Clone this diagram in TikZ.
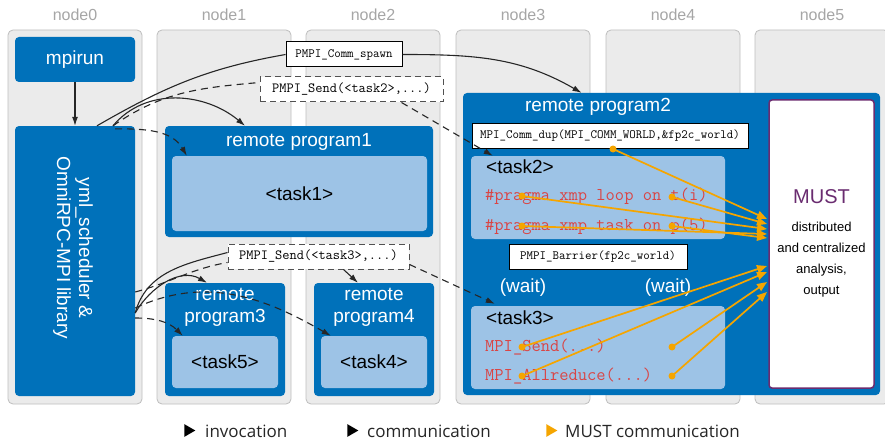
\documentclass[tikz,border=0pt]{standalone}
\usepackage{fontspec}
\setmainfont{Liberation Sans}
\newfontfamily\legendfont{Open Sans}
\usepackage{xcolor}
\usepackage{tikz}
\usetikzlibrary{
arrows.meta,
positioning,
shapes.geometric
}
\definecolor{panel}{HTML}{EBEBEB}
\definecolor{panelline}{HTML}{BEBEBE}
\definecolor{labelgray}{HTML}{A6A6A6}
\definecolor{progblue}{HTML}{0071BA}
\definecolor{taskblue}{HTML}{9DC3E6}
\definecolor{mustorange}{HTML}{F5A500}
\definecolor{mustpurple}{HTML}{6A2C70}
\definecolor{codered}{HTML}{D94545}
\definecolor{arrowgray}{HTML}{262626}

\tikzset{
column/.style={
draw=panelline,
fill=panel,
line width=0.8pt,
rounded corners=5pt,
minimum width=134pt,
minimum height=374pt
},
collabel/.style={
text=labelgray,
font=\fontsize{16}{18}\selectfont
},
prog/.style={
fill=progblue,
rounded corners=4pt,
text=white,
font=\fontsize{19}{22}\selectfont
},
task/.style={
fill=taskblue,
rounded corners=4pt,
font=\fontsize{19}{22}\selectfont
},
title/.style={
text=white,
align=center,
inner sep=0pt,
font=\fontsize{19}{22}\selectfont
},
callbox/.style={
draw=black,
fill=white,
line width=1pt,
inner sep=0pt,
minimum height=25pt,
font=\ttfamily\fontsize{12.6}{14}\selectfont
},
sendbox/.style={
callbox,
draw=arrowgray!80,
dash pattern=on 6pt off 4pt,
font=\ttfamily\fontsize{14}{16}\selectfont
},
code/.style={
text=codered,
inner sep=0pt,
font=\ttfamily\fontsize{18}{20}\selectfont
},
invoke/.style={
draw=arrowgray,
line width=1.1pt,
-{Latex[length=9pt,width=6pt]}
},
comm/.style={
invoke,
dash pattern=on 7pt off 5pt
},
mustline/.style={
draw=mustorange,
line width=1.7pt,
-{Triangle[length=10pt,width=8pt]}
},
mustdot/.style={
circle,
fill=mustorange,
inner sep=0pt,
minimum size=7pt
},
legtip/.style={
isosceles triangle,
isosceles triangle apex angle=60,
inner sep=0pt,
minimum size=11pt
},
legtext/.style={
anchor=west,
inner sep=0pt,
font=\legendfont\fontsize{17}{19}\selectfont,
text=black!85
}
}

\begin{document}
\begin{tikzpicture}[x=1pt,y=-1pt]
\useasboundingbox[fill=white] (0,0) rectangle (885,441);

% columns
\foreach \i/\cx in {0/75,1/224,2/373,3/523,4/673,5/822}{
\node[column] (col\i) at (\cx,217) {};
\node[collabel] (lab\i) at (\cx,15) {node\i};
}

% node0
\node[prog, minimum width=120pt, minimum height=45pt] (mpirun) at (75,59.5) {mpirun};
\node[prog, minimum width=120pt, minimum height=270pt] (yml) at (75,261) {};
\node[title, rotate=-90] (ymltext) at (73,248) {yml\_scheduler \&\\OmniRPC-MPI library};

% remote program1
\node[prog, minimum width=268pt, minimum height=111pt] (rp1) at (299,181.5) {};
\node[title] (rp1title) at (299,142) {remote program1};
\node[task, minimum width=255pt, minimum height=75pt] (task1) at (299.5,193.5) {<task1>};

% remote program3 and 4
\node[prog, minimum width=120pt, minimum height=113pt] (rp3) at (225,339.5) {};
\node[title] (rp3title) at (225,307) {remote\\program3};
\node[task, minimum width=106pt, minimum height=52pt] (task5) at (225,362) {<task5>};
\node[prog, minimum width=120pt, minimum height=113pt] (rp4) at (374,339.5) {};
\node[title] (rp4title) at (374,307) {remote\\program4};
\node[task, minimum width=106pt, minimum height=52pt] (task4) at (374,362) {<task4>};

% remote program2
\node[prog, minimum width=417pt, minimum height=302pt] (rp2) at (671.5,244) {};
\node[title] (rp2title) at (598,107) {remote program2};
\node[callbox, minimum width=276pt] (commdup) at (610,136) {MPI\_Comm\_dup(MPI\_COMM\_WORLD,\&fp2c\_world)};
\node[task, minimum width=254pt, minimum height=83pt] (task2) at (598,197.5) {};
\node[anchor=west, inner sep=0pt, font=\fontsize{19}{22}\selectfont] (task2text) at (486,167) {<task2>};
\node[code, anchor=west] (loopline) at (485,196) {\#pragma xmp loop on t(i)};
\node[code, anchor=west] (taskline) at (485,226) {\#pragma xmp task on p(5)};
\node[callbox, minimum width=178pt] (barrier) at (598,257) {PMPI\_Barrier(fp2c\_world)};
\node[title] (wait1) at (523,288) {(wait)};
\node[title] (wait2) at (668,288) {(wait)};
\node[task, minimum width=254pt, minimum height=83pt] (task3) at (598,347.5) {};
\node[anchor=west, inner sep=0pt, font=\fontsize{19}{22}\selectfont] (task3text) at (486,318) {<task3>};
\node[code, anchor=west] (sendline) at (485,347) {MPI\_Send(...)};
\node[code, anchor=west] (reduceline) at (485,376) {MPI\_Allreduce(...)};

% MUST
\node[draw=mustpurple, fill=white, line width=1.5pt, rounded corners=3pt,
minimum width=105pt, minimum height=288pt] (must) at (821.5,244) {};
\node[text=mustpurple, font=\fontsize{20}{22}\selectfont] (musttitle) at (821.5,197) {MUST};
\node[align=center, font=\fontsize{13}{21}\selectfont] (musttext) at (821.5,259.5)
{distributed\\and centralized\\analysis,\\output};

% calls between programs
\node[callbox, minimum width=116pt] (spawn) at (344,54.5) {PMPI\_Comm\_spawn};
\node[sendbox, minimum width=183pt] (send2) at (351.5,89.5) {PMPI\_Send(<task2>,...)};
\node[sendbox, minimum width=181pt] (send3) at (318.5,256.5) {PMPI\_Send(<task3>,...)};

% invocation
\draw[invoke] (mpirun) -- (yml);
\draw[draw=arrowgray, line width=1.1pt] ([xshift=22pt]yml.north) to[out=30,in=190] (spawn.west);
\draw[invoke] (spawn.east) to[out=0,in=150] ([xshift=-90pt]rp2.north);
\draw[invoke] ([xshift=38pt]yml.north) to[out=50,in=140] ([xshift=-54pt]rp1.north);
\draw[draw=arrowgray, line width=1.1pt] ([yshift=-52pt]yml.east) to[out=75,in=195] ([yshift=4pt]send3.west);
\draw[invoke] ([yshift=-52pt]yml.east) to[out=60,in=150] ([xshift=-18pt]rp3.north);
\draw[invoke] ([xshift=25pt]send3.south) -- ([xshift=-16pt]rp4.north);

% communication
\draw[comm, -] ([xshift=38pt]yml.north) to[out=35,in=185] ([yshift=7pt]send2.west);
\draw[comm] ([xshift=40pt,yshift=-3pt]yml.north) to[out=0,in=120] ([xshift=15pt]task1.north west);
\draw[comm] ([xshift=-42pt]send2.south east) -- ([xshift=22pt]task2.north west);
\draw[comm, -] ([yshift=-31pt]yml.east) to[out=15,in=190] ([yshift=-6pt]send3.west);
\draw[comm] ([yshift=-57pt]yml.east) to[out=0,in=135] ([xshift=11pt]task5.north west);
\draw[comm] ([yshift=-47pt]yml.east) to[out=25,in=150] ([xshift=10pt]task4.north west);
\draw[comm] ([yshift=-8pt]send3.east) -- ([xshift=24pt,yshift=2pt]task3.north west);

% MUST communication
\foreach \n/\px/\py/\ey in {1/613/149/219,2/672/197/224,3/522/196/229,4/522/226/234,5/672/226/238,
6/522/347/266,7/522/376/272,8/672/347/282,9/672/376/292}{
\node[mustdot] (dot\n) at (\px,\py) {};
\coordinate (end\n) at (767,\ey);
\draw[mustline] (dot\n.center) -- (end\n);
}

% legend
\node[legtip, fill=black] (tipA) at (188,430.5) {};
\node[legtext] (legA) at (205,431) {invocation};
\node[legtip, fill=black] (tipB) at (351,430.5) {};
\node[legtext] (legB) at (367,431) {communication};
\node[legtip, fill=mustorange] (tipC) at (550,430.5) {};
\node[legtext] (legC) at (565,431) {MUST communication};

\end{tikzpicture}
\end{document}
